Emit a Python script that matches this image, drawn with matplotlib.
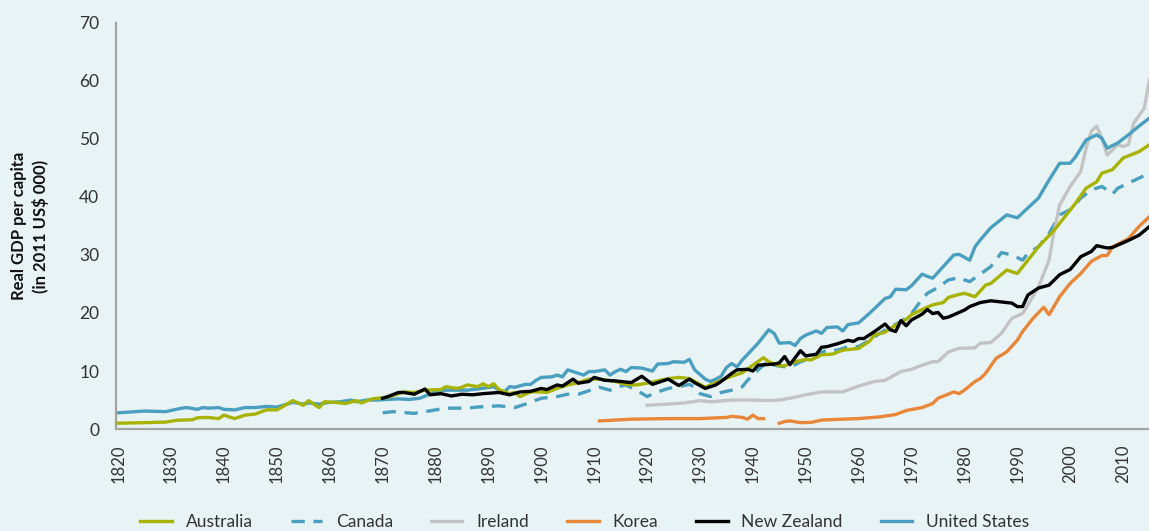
import numpy as np
import matplotlib
matplotlib.use("Agg")
import matplotlib.pyplot as plt

# Real GDP per capita, 2011 US$ 000
aus_years = [1820, 1825, 1829, 1831, 1834, 1835, 1837, 1839, 1840, 1842, 1844, 1846, 1848, 1850,
             1851, 1853, 1855, 1856, 1858, 1859, 1861, 1863, 1865, 1866, 1868, 1869, 1871, 1874,
             1876, 1878, 1881, 1882, 1884, 1885, 1886, 1888, 1889, 1890, 1891, 1892, 1894, 1895,
             1896, 1898, 1900, 1901, 1903, 1905, 1907, 1909, 1911, 1914, 1916, 1918, 1920, 1922,
             1924, 1926, 1928, 1929, 1931, 1932, 1934, 1936, 1938, 1940, 1942, 1943, 1945, 1946,
             1948, 1950, 1951, 1953, 1955, 1957, 1960, 1962, 1963, 1965, 1967, 1969, 1970, 1972,
             1974, 1976, 1977, 1979, 1980, 1982, 1984, 1985, 1988, 1990, 1992, 1994, 1997, 1999,
             2001, 2003, 2005, 2006, 2008, 2010, 2013, 2015]
aus_gdp = [1.0, 1.1, 1.2, 1.5, 1.6, 1.95, 2.0, 1.8, 2.4, 1.8, 2.4, 2.6, 3.3, 3.3,
           3.8, 4.9, 4.1, 4.9, 3.7, 4.7, 4.6, 4.4, 4.9, 4.5, 5.2, 5.3, 5.5, 6.4,
           6.3, 6.7, 6.8, 7.3, 7.0, 7.2, 7.6, 7.3, 7.8, 7.3, 7.8, 6.8, 6.1, 6.3,
           5.6, 6.4, 6.4, 6.3, 7.0, 7.6, 8.0, 8.6, 8.6, 8.2, 7.7, 7.6, 7.9, 8.3,
           8.7, 8.9, 8.7, 8.2, 7.2, 7.6, 8.4, 9.1, 9.7, 11.0, 12.3, 11.6, 10.9, 10.9,
           11.6, 12.0, 11.9, 12.8, 12.9, 13.6, 13.9, 15.1, 16.2, 16.7, 17.9, 18.9, 19.7, 20.6,
           21.4, 21.8, 22.7, 23.2, 23.4, 22.8, 24.8, 25.1, 27.4, 26.8, 29.1, 31.4, 34.3, 36.6,
           38.9, 41.5, 42.6, 44.1, 44.7, 46.7, 47.8, 49.0]

can_years = [1870, 1872, 1876, 1878, 1882, 1886, 1888, 1892, 1895, 1897, 1900, 1903, 1905, 1907,
             1909, 1911, 1913, 1914, 1916, 1918, 1920, 1922, 1924, 1926, 1928, 1929, 1930, 1932,
             1934, 1936, 1938, 1939, 1941, 1943, 1944, 1947, 1949, 1950, 1952, 1954, 1956, 1958,
             1960, 1962, 1964, 1966, 1968, 1970, 1972, 1973, 1975, 1977, 1979, 1980, 1981, 1983,
             1985, 1987, 1989, 1991, 1992, 1994, 1996, 1998, 2000, 2002, 2004, 2006, 2008, 2009,
             2012, 2015]
can_gdp = [2.8, 3.0, 2.7, 3.0, 3.6, 3.6, 3.8, 4.0, 3.7, 4.3, 5.3, 5.6, 6.0, 6.0,
           6.6, 7.2, 6.7, 7.2, 7.6, 6.7, 5.6, 6.4, 7.0, 7.3, 7.7, 7.2, 6.1, 5.6,
           6.3, 6.7, 7.3, 8.4, 10.2, 11.8, 11.0, 10.6, 11.6, 11.9, 12.8, 13.6, 13.6, 14.2,
           14.2, 15.3, 16.5, 17.6, 18.5, 19.9, 22.4, 23.4, 24.4, 25.7, 26.1, 25.7, 25.4, 26.7,
           28.0, 30.4, 30.0, 29.1, 30.3, 31.4, 33.7, 36.9, 37.8, 39.8, 41.2, 41.8, 40.5, 41.5,
           42.8, 44.1]

irl_years = [1920, 1924, 1927, 1930, 1932, 1936, 1940, 1943, 1945, 1947, 1949, 1950, 1953, 1957,
             1960, 1963, 1965, 1968, 1970, 1972, 1974, 1975, 1977, 1979, 1982, 1983, 1985, 1987,
             1989, 1991, 1992, 1994, 1996, 1997, 1998, 2000, 2002, 2003, 2004, 2005, 2006, 2007,
             2009, 2010, 2011, 2012, 2014, 2015]
irl_gdp = [4.1, 4.3, 4.5, 4.9, 4.7, 5.0, 5.0, 4.9, 5.0, 5.3, 5.7, 5.9, 6.4, 6.4,
           7.4, 8.2, 8.4, 9.9, 10.3, 11.0, 11.6, 11.6, 13.3, 13.9, 14.0, 14.8, 14.9, 16.5,
           19.1, 19.9, 21.4, 24.5, 29.1, 34.3, 38.6, 41.8, 44.4, 48.4, 51.3, 52.2, 50.1, 47.2,
           49.0, 48.7, 49.0, 52.7, 55.3, 60.2]

# gap in the Korean series during the 1940s
kor_years = [1911, 1917, 1924, 1930, 1935, 1936, 1938, 1939, 1940, 1941, 1942, 1943,
             1945, 1946, 1947, 1949, 1951, 1953, 1957, 1960, 1964, 1967, 1969, 1972, 1974,
             1975, 1978, 1979, 1980, 1982, 1983, 1984, 1986, 1988, 1990, 1991, 1993, 1995,
             1996, 1998, 2000, 2002, 2004, 2006, 2007, 2008, 2011, 2013, 2015]
kor_gdp = [1.4, 1.7, 1.8, 1.8, 2.0, 2.2, 2.0, 1.7, 2.4, 1.8, 1.8, np.nan,
           1.0, 1.3, 1.4, 1.1, 1.15, 1.55, 1.7, 1.8, 2.1, 2.5, 3.2, 3.7, 4.4,
           5.3, 6.4, 6.1, 6.7, 8.2, 8.7, 9.6, 12.2, 13.3, 15.3, 16.8, 19.1, 21.0,
           19.7, 22.8, 25.1, 26.8, 28.9, 29.9, 29.9, 31.4, 32.8, 34.9, 36.6]

nz_years = [1870, 1871, 1873, 1874, 1876, 1878, 1879, 1881, 1883, 1885, 1887, 1889, 1892, 1894,
            1896, 1898, 1900, 1901, 1903, 1904, 1906, 1907, 1909, 1910, 1912, 1914, 1917, 1919,
            1921, 1923, 1924, 1926, 1928, 1929, 1931, 1933, 1934, 1936, 1937, 1939, 1940, 1941,
            1944, 1945, 1946, 1947, 1949, 1950, 1952, 1953, 1954, 1956, 1958, 1959, 1960, 1961,
            1963, 1965, 1966, 1967, 1968, 1969, 1970, 1972, 1973, 1974, 1975, 1976, 1977, 1978,
            1980, 1981, 1983, 1985, 1987, 1989, 1990, 1991, 1992, 1994, 1996, 1998, 2000, 2002,
            2004, 2005, 2007, 2008, 2011, 2013, 2015]
nz_gdp = [5.3, 5.6, 6.3, 6.3, 6.0, 6.9, 5.9, 6.1, 5.7, 6.0, 5.9, 6.1, 6.3, 5.9,
          6.4, 6.5, 7.0, 6.8, 7.6, 7.4, 8.6, 7.9, 8.2, 8.9, 8.4, 8.3, 8.0, 9.1,
          7.7, 8.3, 8.6, 7.5, 8.6, 8.0, 7.0, 7.6, 8.2, 9.6, 10.2, 10.3, 10.0, 11.0,
          11.2, 11.4, 12.5, 11.1, 13.5, 12.6, 12.9, 14.1, 14.2, 14.7, 15.3, 15.1, 15.6, 15.6,
          16.8, 18.1, 17.1, 16.8, 18.7, 17.8, 18.8, 19.8, 20.6, 19.9, 20.1, 19.1, 19.3, 19.7,
          20.5, 21.1, 21.8, 22.1, 21.9, 21.7, 21.1, 21.1, 23.1, 24.3, 24.8, 26.6, 27.5, 29.7,
          30.6, 31.6, 31.2, 31.3, 32.5, 33.4, 34.9]

us_years = [1820, 1825, 1829, 1832, 1833, 1835, 1836, 1837, 1839, 1840, 1842, 1844, 1846, 1848,
            1850, 1852, 1853, 1855, 1856, 1858, 1860, 1862, 1864, 1865, 1867, 1869, 1873, 1875,
            1877, 1880, 1882, 1886, 1888, 1891, 1892, 1893, 1894, 1895, 1897, 1898, 1899, 1900,
            1902, 1903, 1904, 1905, 1906, 1908, 1909, 1910, 1912, 1913, 1914, 1915, 1916, 1917,
            1919, 1921, 1922, 1924, 1925, 1927, 1928, 1929, 1931, 1932, 1933, 1934, 1935, 1936,
            1937, 1938, 1941, 1943, 1944, 1945, 1947, 1948, 1949, 1950, 1952, 1953, 1954, 1956,
            1957, 1958, 1960, 1962, 1965, 1966, 1967, 1969, 1970, 1972, 1973, 1974, 1976, 1978,
            1979, 1981, 1982, 1983, 1985, 1988, 1990, 1992, 1994, 1996, 1998, 2000, 2001, 2003,
            2005, 2006, 2007, 2009, 2011, 2013, 2015]
us_gdp = [2.8, 3.1, 3.0, 3.6, 3.7, 3.4, 3.7, 3.6, 3.7, 3.4, 3.3, 3.7, 3.7, 3.9,
          3.8, 4.3, 4.6, 4.3, 4.5, 4.3, 4.6, 4.7, 5.0, 4.7, 5.0, 5.0, 5.2, 5.1,
          5.3, 6.4, 6.7, 6.7, 6.9, 7.3, 6.7, 6.4, 7.3, 7.2, 7.7, 7.7, 8.4, 8.9,
          9.0, 9.3, 9.0, 10.2, 9.9, 9.3, 9.9, 9.9, 10.2, 9.3, 9.9, 10.3, 9.9, 10.6,
          10.5, 10.0, 11.2, 11.3, 11.6, 11.5, 12.0, 10.2, 8.6, 8.2, 8.6, 9.1, 10.6, 11.3,
          10.7, 11.9, 14.8, 17.1, 16.5, 14.8, 14.9, 14.4, 15.6, 16.2, 16.9, 16.5, 17.5, 17.6,
          16.9, 18.0, 18.3, 19.9, 22.5, 22.8, 24.1, 24.0, 24.7, 26.7, 26.3, 26.0, 28.0, 30.0,
          30.1, 29.1, 31.4, 32.6, 34.7, 36.9, 36.4, 38.1, 39.8, 42.9, 45.8, 45.8, 46.9, 49.8,
          50.7, 50.1, 48.4, 49.3, 50.7, 52.2, 53.6]

decades = list(range(1820, 2011, 10))

bg = "#E8F3F5"
text_col = "#333333"
plt.rcParams["font.family"] = ["Lato", "DejaVu Sans"]

fig = plt.figure(figsize=(11.49, 5.31), dpi=100, facecolor=bg)
ax = fig.add_axes([0.101, 0.192, 0.899, 0.765], facecolor=bg)

lw = 2.4
ax.plot(aus_years, aus_gdp, color="#A8B300", lw=lw, label="Australia", zorder=3)
ax.plot(can_years, can_gdp, color="#4A9FC0", lw=lw, dashes=(4, 2.6), label="Canada", zorder=2)
ax.plot(irl_years, irl_gdp, color="#C3C3C3", lw=lw, label="Ireland", zorder=2)
ax.plot(kor_years, kor_gdp, color="#E8873A", lw=lw, label="Korea", zorder=2)
ax.plot(nz_years, nz_gdp, color="#000000", lw=lw, label="New Zealand", zorder=4)
ax.plot(us_years, us_gdp, color="#4A9FC0", lw=lw, label="United States", zorder=2)

ax.set_xlim(1819.6, 2014.9)
ax.set_ylim(0, 70)
ax.set_xticks(decades)
ax.set_xticklabels([str(d) for d in decades], rotation=90)
ax.set_yticks(range(0, 71, 10))

for s in ["top", "right"]:
    ax.spines[s].set_visible(False)
for s in ["left", "bottom"]:
    ax.spines[s].set_color("#A3A3A3")
    ax.spines[s].set_linewidth(1.6)

ax.tick_params(axis="both", length=0, colors=text_col)
ax.tick_params(axis="y", labelsize=12.5, pad=12)
ax.tick_params(axis="x", labelsize=12, pad=11)

ax.set_ylabel("Real GDP per capita\n(in 2011 US$ 000)", fontsize=12, fontweight="bold",
              color="#111111", linespacing=1.35, labelpad=22)

fig.legend(loc="lower center", bbox_to_anchor=(0.509, -0.027), ncol=6, frameon=False,
           fontsize=12.5, handlelength=1.8, handletextpad=0.8, columnspacing=2.2,
           labelcolor=text_col)

fig.savefig("out.png", dpi=100, facecolor=bg)
